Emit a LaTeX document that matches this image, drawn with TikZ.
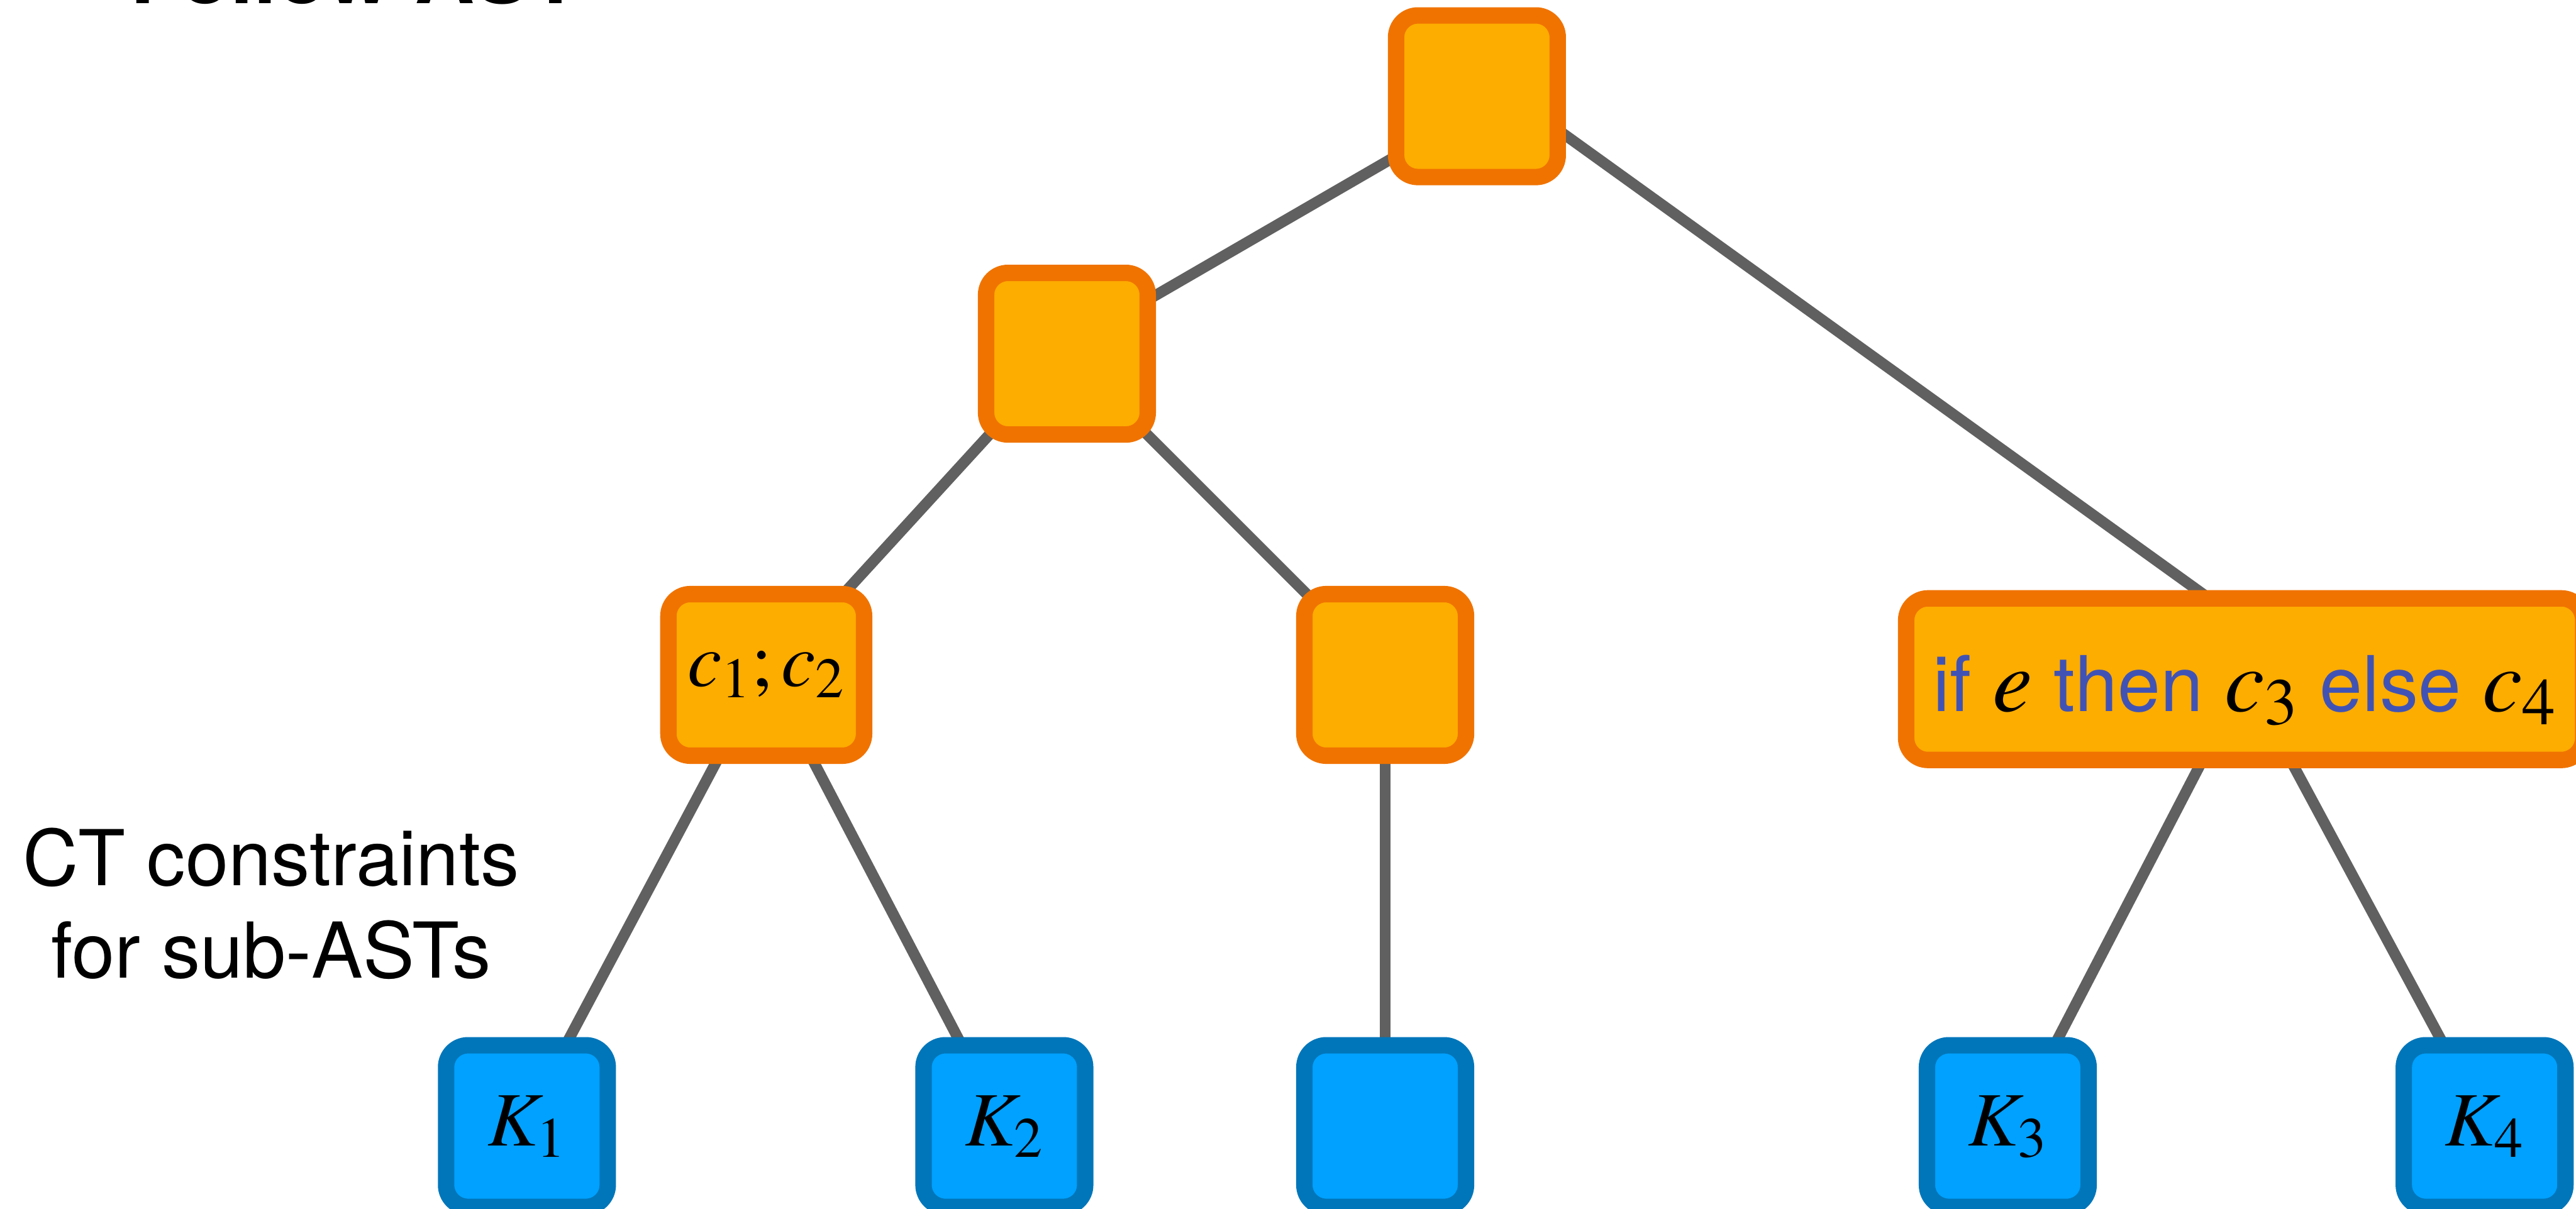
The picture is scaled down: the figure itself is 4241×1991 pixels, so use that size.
\documentclass[tikz,border=0pt]{standalone}
\usepackage{mathptmx}
\usepackage[no-math]{fontspec}
\setmainfont{TeX Gyre Heros}
\usetikzlibrary{backgrounds}

\definecolor{edgegray}{RGB}{96,96,96}
\definecolor{astorange}{RGB}{240,115,0}
\definecolor{astfill}{RGB}{253,172,0}
\definecolor{leafline}{RGB}{0,118,186}
\definecolor{leaffill}{RGB}{0,161,255}
\definecolor{kwblue}{RGB}{64,83,181}

% math inside the conditional node is set a little larger than the keywords
\newcommand{\condmath}[1]{{\fontsize{42}{50}\selectfont$#1$}}

\tikzset{
  astnode/.style={draw=astorange, fill=astfill, line width=0.27cm,
    rounded corners=0.36cm, minimum width=2.66cm, minimum height=2.66cm,
    inner sep=0pt, font=\fontsize{36}{43}\selectfont},
  leafnode/.style={astnode, draw=leafline, fill=leaffill,
    text height=0.9cm, text depth=0.25cm},
  astedge/.style={draw=edgegray, line width=0.18cm},
}

\begin{document}
\begin{tikzpicture}[x=0.01cm, y=-0.01cm]
\useasboundingbox (0,0) rectangle (4241,1991);

% heading and side caption
\node[anchor=base west, inner sep=0pt, font=\bfseries\fontsize{38.9}{46}\selectfont]
  (title) at (214,6) {Follow AST};
\node[align=center, inner sep=0pt, font=\fontsize{36.1}{43.2}\selectfont]
  (note) at (446,1488) {CT constraints\\for sub-ASTs};

% inner AST nodes
\node[astnode] (root) at (2431.5,158.5) {};
\node[astnode] (l1) at (1756.5,582.5) {};
\node[astnode, minimum width=3.22cm, text height=0.6cm, text depth=0.23cm]
  (seq) at (1261.5,1111.5) {$c_1; c_2$};
\node[astnode] (mid) at (2280.5,1111.5) {};
\node[astnode, minimum width=11.14cm, text height=1.2cm, text depth=0.15cm]
  (cond) at (3695.5,1118.5)
  {\textcolor{kwblue}{if} \condmath{e} \textcolor{kwblue}{then} \condmath{c_3}
   \textcolor{kwblue}{else} \condmath{c_4}};

% leaves: constraints of the sub-ASTs
\node[leafnode] (k1) at (867.5,1854.5) {$K_1$};
\node[leafnode] (k2) at (1653.5,1854.5) {$K_2$};
\node[leafnode] (k0) at (2280.5,1854.5) {};
\node[leafnode] (k3) at (3305.5,1854.5) {$K_3$};
\node[leafnode] (k4) at (4090.5,1854.5) {$K_4$};

\begin{scope}[on background layer]
  \fill[white] (0,0) rectangle (4241,1991);
  \draw[astedge] ([shift={(-51,51)}]root.center) -- ([shift={(44,-37)}]l1.center);
  \draw[astedge] ([shift={(69,9)}]root.center) -- ([shift={(101,-18)}]cond.center);
  \draw[astedge] ([shift={(-68,68)}]l1.center) -- ([shift={(61,-61)}]seq.center);
  \draw[astedge] ([shift={(64,65)}]l1.center) -- ([shift={(-60,-64)}]mid.center);
  \draw[astedge] ([shift={(-42.5,68.5)}]seq.center) -- ([shift={(32.5,-74.5)}]k1.center);
  \draw[astedge] ([shift={(39,68.5)}]seq.center) -- ([shift={(-39.5,-74.5)}]k2.center);
  \draw[astedge] (mid.center) -- (k0.center);
  \draw[astedge] ([shift={(-42.5,81.5)}]cond.center) -- ([shift={(46.5,-74.5)}]k3.center);
  \draw[astedge] ([shift={(47.5,81.5)}]cond.center) -- ([shift={(-35.5,-74.5)}]k4.center);
\end{scope}
\end{tikzpicture}
\end{document}
